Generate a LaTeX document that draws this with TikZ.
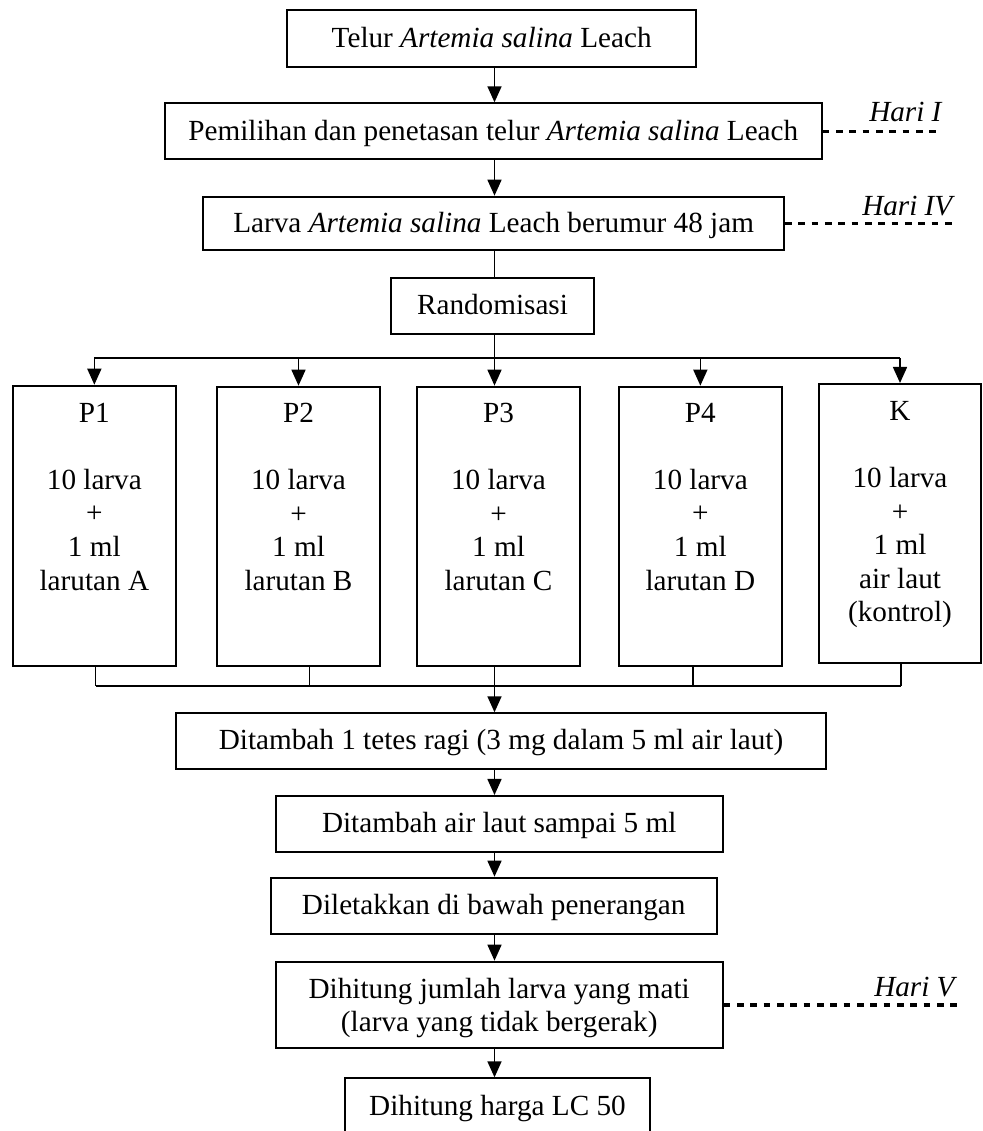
\documentclass[tikz,border=0pt]{standalone}
\usepackage{fontspec}
\setmainfont{Liberation Serif}
\usetikzlibrary{arrows.meta,calc}
\begin{document}
\begin{tikzpicture}[x=0.75pt,y=-0.75pt,
  every node/.style={font=\fontsize{21.9pt}{25.2pt}\selectfont},
  box/.style={draw,line width=1.5pt,rectangle,inner sep=0pt,text height=13.2pt,text depth=0pt},
  tallbox/.style={draw,line width=1.5pt,rectangle,inner sep=0pt,align=center},
  pbox/.style={draw,line width=1.5pt,rectangle,inner sep=0pt},
  ptext/.style={anchor=north,align=center,inner sep=0pt},
  conn/.style={line width=1.2pt},
  arr/.style={line width=1.2pt,-{Triangle[length=12pt,width=10.5pt]}},
  dayline/.style={line width=2.4pt,dash pattern=on 5pt off 5pt},
  daylabel/.style={anchor=base west,inner sep=0pt,font=\fontsize{21.9pt}{25.2pt}\selectfont\itshape}
]
\useasboundingbox (0,0) rectangle (982,1131);
\clip (0,0) rectangle (982,1131);

\coordinate (spine) at (494.5,0);
\coordinate (brY) at (0,358);
\coordinate (busY) at (0,686);

% main boxes
\node[box,minimum width=306.5pt,minimum height=42.5pt] (telur) at (491.65,38.35) {Telur \textit{Artemia salina} Leach};
\node[box,minimum width=492.5pt,minimum height=42pt] (pem) at (493.35,131.3) {Pemilihan dan penetasan telur \textit{Artemia salina} Leach};
\node[box,minimum width=435.5pt,minimum height=40pt] (larva) at (493.65,223.35) {Larva \textit{Artemia salina} Leach berumur 48 jam};
\node[box,minimum width=152.7pt,minimum height=41.8pt] (random) at (492.5,306.15) {Randomisasi};

% treatment boxes
\node[pbox,minimum width=122.5pt,minimum height=210pt] (p1) at (94.35,525.7) {};
\node[pbox,minimum width=122.2pt,minimum height=209.5pt] (p2) at (298.5,526.35) {};
\node[pbox,minimum width=122.2pt,minimum height=209.5pt] (p3) at (498.5,526.3) {};
\node[pbox,minimum width=122pt,minimum height=209.3pt] (p4) at (700.35,526.2) {};
\node[pbox,minimum width=121.5pt,minimum height=209.5pt] (k) at (900,523.65) {};

\node[ptext] (p1t) at (94.35,402.6) {P1\\ \\10 larva\\+\\1 ml\\larutan A};
\node[ptext] (p2t) at (298.5,402.6) {P2\\ \\10 larva\\+\\1 ml\\larutan B};
\node[ptext] (p3t) at (498.5,402.6) {P3\\ \\10 larva\\+\\1 ml\\larutan C};
\node[ptext] (p4t) at (700.35,402.6) {P4\\ \\10 larva\\+\\1 ml\\larutan D};
\node[ptext] (kt) at (900,401) {K\\ \\10 larva\\+\\1 ml\\air laut\\(kontrol)};

% lower boxes
\node[box,minimum width=487.5pt,minimum height=41.8pt] (ragi) at (501,741.15) {Ditambah 1 tetes ragi (3 mg dalam 5 ml air laut)};
\node[box,minimum width=335.3pt,minimum height=41.8pt] (air) at (499.2,823.85) {Ditambah air laut sampai 5 ml};
\node[box,minimum width=334.5pt,minimum height=42.5pt] (dilet) at (493.7,906) {Diletakkan di bawah penerangan};
\node[tallbox,minimum width=335.3pt,minimum height=65pt] (dihit) at (499.2,1005) {\rule{0pt}{19.5pt}Dihitung jumlah larva yang mati\\(larva yang tidak bergerak)};
\node[box,minimum width=228.8pt,minimum height=42.5pt] (lc) at (497.5,1106.65) {Dihitung harga LC 50};

% day labels
\node[daylabel] (h1) at (869,121.7) {Hari I};
\node[daylabel] (h4) at (862,215) {Hari IV};
\node[daylabel] (h5) at (874,996.7) {Hari V};
\coordinate (h1end) at (940,131.3);
\coordinate (h4end) at (952,223.35);
\coordinate (h5end) at (960,1005);
\draw[dayline] (pem.east) -- (h1end);
\draw[dayline] (larva.east) -- (h4end);
\draw[dayline] (dihit.east) -- (h5end);

% connectors, top part
\draw[arr] (telur.south -| spine) -- (pem.north -| spine);
\draw[arr] (pem.south -| spine) -- (larva.north -| spine);
\draw[conn] (larva.south -| spine) -- (random.north -| spine);
\draw[arr] (random.south -| spine) -- (p3.north -| spine);
\draw[conn] (p1.north |- brY) -- (k.north |- brY);
\draw[arr] (p1.north |- brY) -- (p1.north);
\draw[arr] (p2.north |- brY) -- (p2.north);
\draw[arr] (p4.north |- brY) -- (p4.north);
\draw[arr] (k.north |- brY) -- (k.north);

% collecting bus
\draw[conn] ([xshift=1pt]p1.south) -- ([xshift=1pt]p1.south |- busY);
\draw[conn] ([xshift=8.1pt]p2.south) -- ([xshift=8.1pt]p2.south |- busY);
\draw[conn] ([xshift=-5.5pt]p4.south) -- ([xshift=-5.5pt]p4.south |- busY);
\draw[conn] ([xshift=0.75pt]k.south) -- ([xshift=0.75pt]k.south |- busY);
\draw[conn] ([xshift=1pt]p1.south |- busY) -- ([xshift=0.75pt]k.south |- busY);
\draw[arr] (p3.south -| spine) -- (ragi.north -| spine);

% connectors, bottom part
\draw[arr] (ragi.south -| spine) -- (air.north -| spine);
\draw[arr] (air.south -| spine) -- (dilet.north -| spine);
\draw[arr] (dilet.south -| spine) -- (dihit.north -| spine);
\draw[arr] (dihit.south -| spine) -- (lc.north -| spine);
\end{tikzpicture}
\end{document}
